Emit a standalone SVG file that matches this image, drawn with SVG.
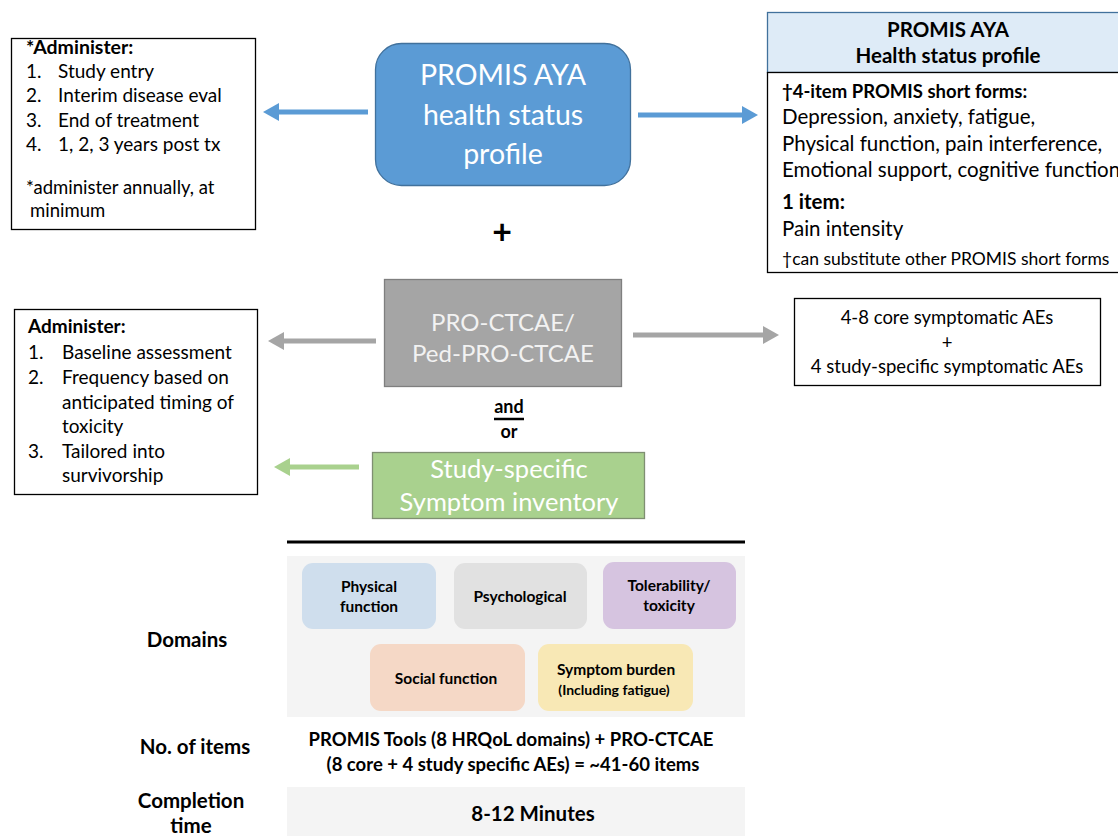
<svg xmlns="http://www.w3.org/2000/svg" width="1118" height="836" viewBox="0 0 1118 836">
<style>
text{font-family:Lato,"Open Sans","Liberation Sans",sans-serif;fill:#000}
.b{font-weight:bold}
.box{fill:#fff;stroke:#000;stroke-width:1.3}
.t17{font-size:19px}
.t18{font-size:20.5px}
.w{fill:#fff}
.c{text-anchor:middle}
.dom{font-size:15.5px;font-weight:bold;text-anchor:middle}
.lab{font-size:20.5px;font-weight:bold;text-anchor:middle}
</style>
<defs>
<marker id="hb" viewBox="0 0 16 18" refX="0" refY="9" markerWidth="16" markerHeight="18" markerUnits="userSpaceOnUse" orient="auto"><path d="M0,0 L16,9 L0,18 z" fill="#5b9bd5"/></marker>
<marker id="hg" viewBox="0 0 16 18" refX="0" refY="9" markerWidth="16" markerHeight="18" markerUnits="userSpaceOnUse" orient="auto"><path d="M0,0 L16,9 L0,18 z" fill="#a5a5a5"/></marker>
<marker id="hn" viewBox="0 0 16 18" refX="0" refY="9" markerWidth="16" markerHeight="18" markerUnits="userSpaceOnUse" orient="auto"><path d="M0,0 L16,9 L0,18 z" fill="#a9d18e"/></marker>
</defs>
<rect width="1118" height="836" fill="#fff"/>

<g id="connectors">
<line x1="368" y1="112" x2="279" y2="112" stroke="#5b9bd5" stroke-width="5" marker-end="url(#hb)"/>
<line x1="638" y1="115" x2="742" y2="115" stroke="#5b9bd5" stroke-width="5" marker-end="url(#hb)"/>
<line x1="376" y1="341" x2="284" y2="341" stroke="#a5a5a5" stroke-width="5" marker-end="url(#hg)"/>
<line x1="633" y1="335" x2="763" y2="335" stroke="#a5a5a5" stroke-width="5" marker-end="url(#hg)"/>
<line x1="359" y1="467" x2="290" y2="467" stroke="#a9d18e" stroke-width="5" marker-end="url(#hn)"/>
</g>

<g id="administer-promis">
<rect class="box" x="11.5" y="38.5" width="244" height="191"/>
<text class="b" style="font-size:19.5px" x="26" y="54">*Administer:</text>
<text class="t17" x="26" y="78">1.</text><text class="t17" x="58" y="78">Study entry</text>
<text class="t17" x="26" y="102">2.</text><text class="t17" x="58" y="102">Interim disease eval</text>
<text class="t17" x="26" y="127">3.</text><text class="t17" x="58" y="127">End of treatment</text>
<text class="t17" x="26" y="151">4.</text><text class="t17" x="58" y="151">1, 2, 3 years post tx</text>
<text style="font-size:18.5px" x="26" y="194">*administer annually, at</text>
<text style="font-size:18.5px" x="30" y="217">minimum</text>
</g>

<g id="promis-aya">
<rect x="375.5" y="43.5" width="255" height="142" rx="26" fill="#5b9bd5" stroke="#41719c" stroke-width="1.3"/>
<text class="w c" style="font-size:28.5px" x="503" y="85">PROMIS AYA</text>
<text class="w c" style="font-size:28.5px" x="503" y="125">health status</text>
<text class="w c" style="font-size:28.5px" x="503" y="164">profile</text>
</g>

<g id="plus">
<text class="c b" style="font-size:34px" x="502" y="244">+</text>
</g>

<g id="health-status-profile">
<rect x="767.5" y="12.5" width="360" height="60" fill="#deebf7" stroke="#41719c" stroke-width="1.3"/>
<rect class="box" x="767.5" y="72.5" width="360" height="200"/>
<text class="b c" style="font-size:20.5px" x="948" y="37">PROMIS AYA</text>
<text class="b c" style="font-size:20.5px" x="948" y="63">Health status profile</text>
<text class="b" style="font-size:18.5px" x="782" y="98">†4-item PROMIS short forms:</text>
<text class="t18" x="782" y="124">Depression, anxiety, fatigue,</text>
<text class="t18" x="782" y="151">Physical function, pain interference,</text>
<text class="t18" x="782" y="177">Emotional support, cognitive function</text>
<text class="t18 b" x="782" y="209">1 item:</text>
<text class="t18" x="782" y="236">Pain intensity</text>
<text style="font-size:17.5px" x="782" y="265">†can substitute other PROMIS short forms</text>
</g>

<g id="administer-ctcae">
<rect class="box" x="14.5" y="309.5" width="243" height="185"/>
<text class="b" style="font-size:19px" x="28" y="333">Administer:</text>
<text class="t17" x="28" y="359">1.</text><text class="t17" x="62" y="359">Baseline assessment</text>
<text class="t17" x="28" y="384">2.</text><text class="t17" x="62" y="384">Frequency based on</text>
<text class="t17" x="62" y="409">anticipated timing of</text>
<text class="t17" x="62" y="433">toxicity</text>
<text class="t17" x="28" y="458">3.</text><text class="t17" x="62" y="458">Tailored into</text>
<text class="t17" x="62" y="482">survivorship</text>
</g>

<g id="pro-ctcae">
<rect x="384.5" y="279.5" width="237" height="107" fill="#a5a5a5" stroke="#7f7f7f" stroke-width="1.3"/>
<text class="c" style="font-size:24px;fill:#f2f2f2" x="503" y="331">PRO-CTCAE/</text>
<text class="c" style="font-size:24px;fill:#f2f2f2" x="503" y="362">Ped-PRO-CTCAE</text>
</g>

<g id="core-aes">
<rect class="box" x="794.5" y="298.5" width="306" height="87"/>
<text class="c" style="font-size:18.5px" x="947" y="324">4-8 core symptomatic AEs</text>
<text class="c" style="font-size:18.5px" x="947" y="349">+</text>
<text class="c" style="font-size:18.5px" x="947" y="373">4 study-specific symptomatic AEs</text>
</g>

<g id="and-or">
<text class="b c" style="font-size:18px" x="509" y="413">and</text>
<line x1="494" y1="419" x2="524" y2="419" stroke="#000" stroke-width="2.5"/>
<text class="b c" style="font-size:18px" x="509" y="438">or</text>
</g>

<g id="study-specific">
<rect x="372.5" y="452.5" width="272" height="66" fill="#a9d18e" stroke="#7f8f72" stroke-width="1.3"/>
<text class="c" style="font-size:25.5px;fill:#fff" x="509" y="478">Study-specific</text>
<text class="c" style="font-size:25.5px;fill:#fff" x="509" y="511">Symptom inventory</text>
</g>

<g id="separator">
<line x1="287" y1="542" x2="745" y2="542" stroke="#000" stroke-width="3"/>
</g>

<g id="domains-panel">
<rect x="287" y="556" width="458" height="161" fill="#f4f4f4"/>
<text class="lab" x="187" y="647">Domains</text>
</g>

<g id="physical-function">
<rect x="302" y="563" width="134" height="66" rx="11" fill="#cfdeed"/>
<text class="dom" x="369" y="592">Physical</text>
<text class="dom" x="369" y="612">function</text>
</g>
<g id="psychological">
<rect x="454" y="563" width="133" height="66" rx="11" fill="#e1e1e1"/>
<text class="dom" x="520" y="602">Psychological</text>
</g>
<g id="tolerability">
<rect x="603" y="562" width="133" height="67" rx="11" fill="#d6c4e0"/>
<text class="dom" x="669" y="591">Tolerability/</text>
<text class="dom" x="669" y="611">toxicity</text>
</g>
<g id="social-function">
<rect x="370" y="644" width="155" height="67" rx="11" fill="#f5d8c6"/>
<text class="dom" x="446" y="684">Social function</text>
</g>
<g id="symptom-burden">
<rect x="538" y="644" width="155" height="67" rx="11" fill="#f8e8b5"/>
<text class="dom" x="616" y="675">Symptom burden</text>
<text class="c b" style="font-size:14px" x="614" y="695">(Including fatigue)</text>
</g>

<g id="items">
<text class="lab" x="195" y="754">No. of items</text>
<text class="b c" style="font-size:18.5px" x="511" y="746">PROMIS Tools (8 HRQoL domains) + PRO-CTCAE</text>
<text class="b c" style="font-size:18.5px" x="513" y="771">(8 core + 4 study specific AEs) = ~41-60 items</text>
</g>

<g id="completion">
<rect x="287" y="787" width="458" height="49" fill="#f4f4f4"/>
<text class="lab" x="191" y="808">Completion</text>
<text class="lab" x="191" y="833">time</text>
<text class="b c" style="font-size:20.5px" x="533" y="821">8-12 Minutes</text>
</g>
</svg>
